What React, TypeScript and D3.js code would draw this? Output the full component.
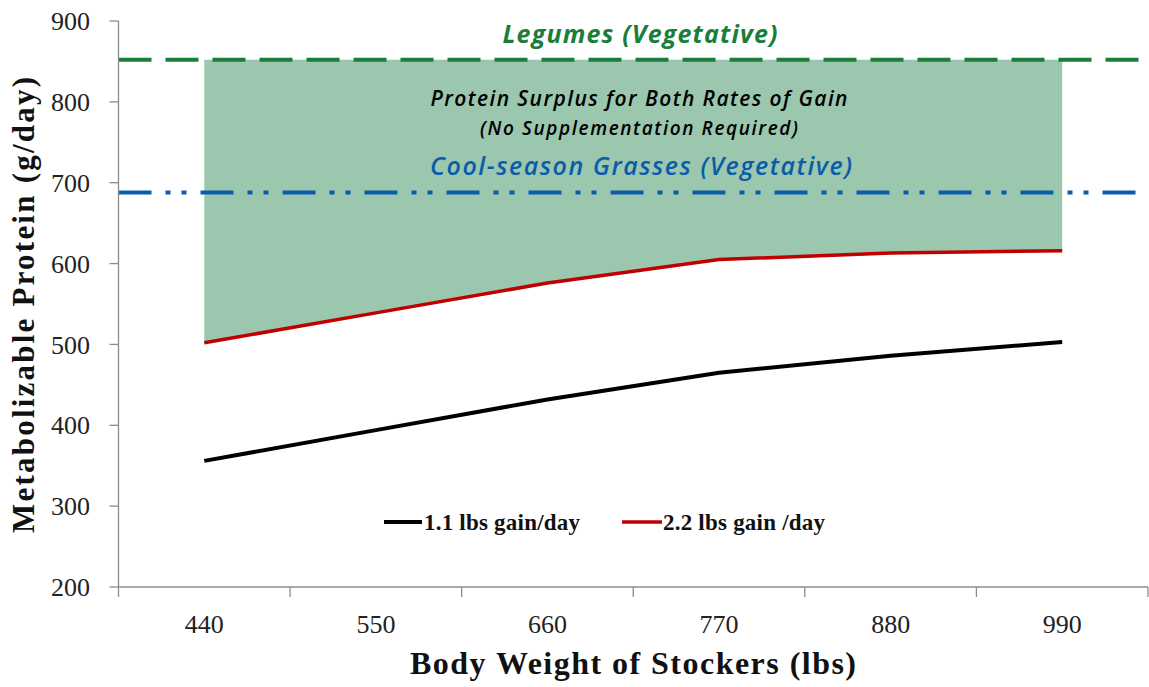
import React from "react";
import * as d3 from "d3";

const categories = ["440", "550", "660", "770", "880", "990"];
const gain11 = [356, 394, 432, 465, 486, 503];
const gain22 = [502, 539, 576, 605, 613, 616];
const legumesLevel = 852;
const coolSeasonLevel = 688;
const yTicks = [200, 300, 400, 500, 600, 700, 800, 900];
const seriesNames = ["1.1 lbs gain/day", "2.2 lbs gain /day"];

const W = 1149;
const H = 687;
const left = 118.5;
const right = 1148;
const top = 21;
const bottom = 587;

export default function App() {
  const x = d3.scaleBand<string>().domain(categories).range([left, right]).padding(0);
  const y = d3.scaleLinear().domain([200, 900]).range([bottom, top]);
  const cx = (c: string) => (x(c) as number) + x.bandwidth() / 2;

  const line = d3
    .line<number>()
    .x((_, i) => cx(categories[i]))
    .y((d) => y(d));

  const area = d3
    .area<number>()
    .x((_, i) => cx(categories[i]))
    .y0((d) => y(d))
    .y1(() => y(legumesLevel));

  const serif = "'Liberation Serif', 'DejaVu Serif', serif";
  const sans = "'Open Sans', Lato, 'Noto Sans', sans-serif";
  const tickEdges = categories.map((c) => x(c) as number).concat([right]);

  return (
    <svg width={W} height={H} style={{ position: "absolute", left: 0, top: 0, background: "#fff" }}>
      <path d={area(gain22) || ""} fill="#9ac7ae" />
      {/* reference lines */}
      <line x1={left} x2={right} y1={y(legumesLevel)} y2={y(legumesLevel)} stroke="#1b7d3a" strokeWidth={4} strokeDasharray="33 14" />
      <line x1={left} x2={right} y1={y(coolSeasonLevel)} y2={y(coolSeasonLevel)} stroke="#0a5cab" strokeWidth={4} strokeDasharray="33 14 5 11 5 14" />
      {/* axes */}
      <line x1={left} x2={left} y1={top} y2={bottom} stroke="#8c8c8c" strokeWidth={1.3} />
      <line x1={left} x2={right} y1={bottom} y2={bottom} stroke="#8c8c8c" strokeWidth={1.3} />
      {yTicks.map((t) => (
        <g key={t}>
          <line x1={left - 9} x2={left} y1={y(t)} y2={y(t)} stroke="#8c8c8c" strokeWidth={1.3} />
          <text x={90} y={y(t)} dy="0.35em" textAnchor="end" fontFamily={serif} fontSize={26} fill="#222">
            {t}
          </text>
        </g>
      ))}
      {tickEdges.map((e, i) => (
        <line key={i} x1={e} x2={e} y1={bottom} y2={bottom + 10} stroke="#8c8c8c" strokeWidth={1.3} />
      ))}
      {categories.map((c) => (
        <text key={c} x={cx(c)} y={633} textAnchor="middle" fontFamily={serif} fontSize={26} fill="#222">
          {c}
        </text>
      ))}
      {/* series */}
      <path d={line(gain11) || ""} fill="none" stroke="#000" strokeWidth={4} />
      <path d={line(gain22) || ""} fill="none" stroke="#c00000" strokeWidth={3.5} />
      {/* annotations */}
      <text x={640} y={43} textAnchor="middle" fontFamily={sans} fontStyle="italic" fontWeight="bold" fontSize={25} fill="#1b7d3a" textLength={275} lengthAdjust="spacing">
        Legumes (Vegetative)
      </text>
      <text x={639} y={106} textAnchor="middle" fontFamily={sans} fontStyle="italic" fontWeight="600" fontSize={21} fill="#000" textLength={417} lengthAdjust="spacing">
        Protein Surplus for Both Rates of Gain
      </text>
      <text x={639} y={135} textAnchor="middle" fontFamily={sans} fontStyle="italic" fontWeight="600" fontSize={19} fill="#000" textLength={318} lengthAdjust="spacing">
        (No Supplementation Required)
      </text>
      <text x={641} y={175} textAnchor="middle" fontFamily={sans} fontStyle="italic" fontWeight="600" fontSize={25} fill="#0a5cab" textLength={422} lengthAdjust="spacing">
        Cool-season Grasses (Vegetative)
      </text>
      {/* legend */}
      <line x1={384} x2={422} y1={522} y2={522} stroke="#000" strokeWidth={4} />
      <text x={424} y={530} fontFamily={serif} fontWeight="bold" fontSize={23} fill="#111" textLength={156} lengthAdjust="spacing">
        {seriesNames[0]}
      </text>
      <line x1={622} x2={662} y1={522} y2={522} stroke="#c00000" strokeWidth={3.5} />
      <text x={663} y={530} fontFamily={serif} fontWeight="bold" fontSize={23} fill="#111" textLength={162} lengthAdjust="spacing">
        {seriesNames[1]}
      </text>
      {/* axis titles */}
      <text x={633} y={674} textAnchor="middle" fontFamily={serif} fontWeight="bold" fontSize={32} fill="#111" textLength={446} lengthAdjust="spacing">
        Body Weight of Stockers (lbs)
      </text>
      <text
        transform={`translate(34, 305) rotate(-90)`}
        textAnchor="middle"
        fontFamily={serif}
        fontWeight="bold"
        fontSize={31}
        fill="#111"
        textLength={456}
        lengthAdjust="spacing"
      >
        Metabolizable Protein (g/day)
      </text>
    </svg>
  );
}
